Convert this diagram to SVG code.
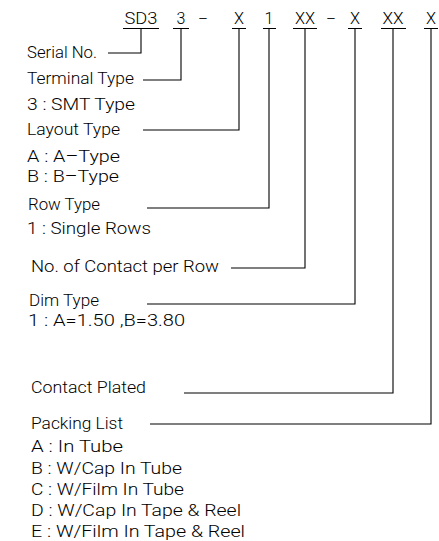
<svg xmlns="http://www.w3.org/2000/svg" width="439" height="541" viewBox="0 0 439 541">
<style>
text{font-family:Roboto,"Liberation Sans",Arial,sans-serif;font-weight:300;fill:#000}
.code{font-size:16px;text-anchor:middle}
.lbl{font-size:16.5px}
.ln{stroke:#000;stroke-width:1.1;fill:none}
</style>
<rect width="439" height="541" fill="#fff"/>
<g id="code">
<text class="code" x="141" y="24" textLength="33" lengthAdjust="spacingAndGlyphs">SD3</text>
<text class="code" x="181" y="24">3</text>
<text class="code" x="203" y="24" textLength="9" lengthAdjust="spacingAndGlyphs">-</text>
<text class="code" x="239" y="24" textLength="10" lengthAdjust="spacingAndGlyphs">X</text>
<text class="code" x="269" y="24">1</text>
<text class="code" x="305" y="24" textLength="20" lengthAdjust="spacingAndGlyphs">XX</text>
<text class="code" x="331" y="24" textLength="9" lengthAdjust="spacingAndGlyphs">-</text>
<text class="code" x="355" y="24" textLength="10" lengthAdjust="spacingAndGlyphs">X</text>
<text class="code" x="393" y="24" textLength="21" lengthAdjust="spacingAndGlyphs">XX</text>
<text class="code" x="431" y="24" textLength="10" lengthAdjust="spacingAndGlyphs">X</text>
<path class="ln" d="M123,28.5H159M173,28.5H189M232,28.5H246M263,28.5H276M293,28.5H317M348,28.5H362M381,28.5H406M424,28.5H438"/>
</g>
<g id="serial"><text class="lbl" x="27" y="58" textLength="70" lengthAdjust="spacingAndGlyphs">Serial No.</text></g>
<g id="terminal">
<text class="lbl" x="27" y="84" textLength="107" lengthAdjust="spacingAndGlyphs">Terminal Type</text>
<text class="lbl" x="27" y="110" textLength="108" lengthAdjust="spacingAndGlyphs">3 : SMT Type</text>
</g>
<g id="layout">
<text class="lbl" x="27" y="135" textLength="93" lengthAdjust="spacingAndGlyphs">Layout Type</text>
<text class="lbl" x="27" y="162" textLength="93" lengthAdjust="spacingAndGlyphs">A : A–Type</text>
<text class="lbl" x="27" y="182" textLength="92" lengthAdjust="spacingAndGlyphs">B : B–Type</text>
</g>
<g id="row">
<text class="lbl" x="28" y="210" textLength="72" lengthAdjust="spacingAndGlyphs">Row Type</text>
<text class="lbl" x="27" y="234" textLength="124" lengthAdjust="spacingAndGlyphs">1 : Single Rows</text>
</g>
<g id="contacts"><text class="lbl" x="31" y="272" textLength="188" lengthAdjust="spacingAndGlyphs">No. of Contact per Row</text></g>
<g id="dim">
<text class="lbl" x="29" y="306" textLength="70" lengthAdjust="spacingAndGlyphs">Dim Type</text>
<text class="lbl" x="28" y="326" textLength="157" lengthAdjust="spacingAndGlyphs">1 : A=1.50 ,B=3.80</text>
</g>
<g id="plated"><text class="lbl" x="31" y="393" textLength="115" lengthAdjust="spacingAndGlyphs">Contact Plated</text></g>
<g id="packing">
<text class="lbl" x="31" y="429" textLength="92" lengthAdjust="spacingAndGlyphs">Packing List</text>
<text class="lbl" x="31" y="452" textLength="92" lengthAdjust="spacingAndGlyphs">A : In Tube</text>
<text class="lbl" x="31" y="474" textLength="151" lengthAdjust="spacingAndGlyphs">B : W/Cap In Tube</text>
<text class="lbl" x="31" y="495" textLength="153" lengthAdjust="spacingAndGlyphs">C : W/Film In Tube</text>
<text class="lbl" x="31" y="516" textLength="210" lengthAdjust="spacingAndGlyphs">D : W/Cap In Tape &amp; Reel</text>
<text class="lbl" x="31" y="537" textLength="214" lengthAdjust="spacingAndGlyphs">E : W/Film In Tape &amp; Reel</text>
</g>
<g id="connectors">
<path class="ln" d="M141,28.5V53H108"/>
<path class="ln" d="M181,28.5V80H143"/>
<path class="ln" d="M239,28.5V130H143"/>
<path class="ln" d="M269,28.5V208H147"/>
<path class="ln" d="M305,28.5V268H231"/>
<path class="ln" d="M355,28.5V304H147"/>
<path class="ln" d="M393,28.5V393H184"/>
<path class="ln" d="M431,28.5V424H150"/>
</g>
</svg>
